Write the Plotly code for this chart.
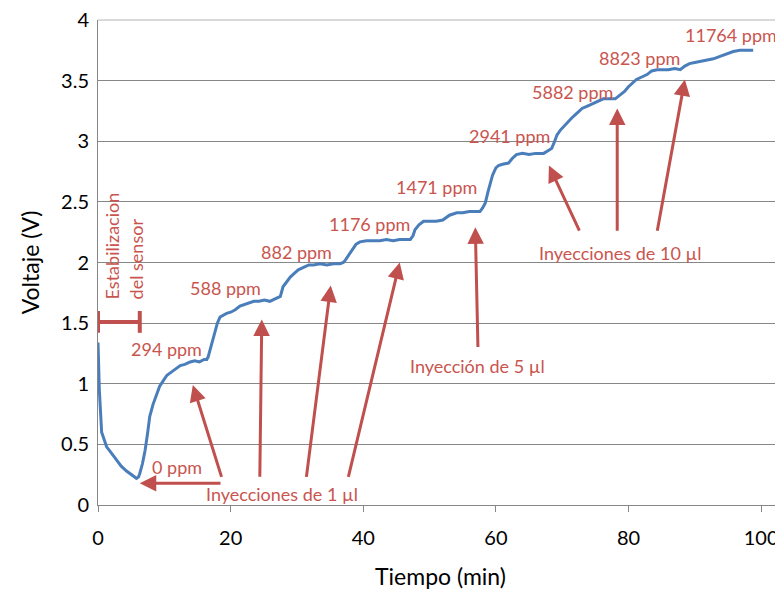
import plotly.graph_objects as go

# ---- data ----
time_min = [0, 0.2, 0.55, 1.3, 2.0, 2.8, 3.5, 4.3, 5.0, 5.5, 5.8, 6.1, 6.3, 6.7, 7.1, 7.5, 7.8, 8.3, 8.8, 9.3,
            9.9, 10.4, 10.9, 11.6, 12.4, 13.1, 13.9, 14.6, 15.3, 16.0, 16.4, 16.6, 17.0, 17.4, 17.6, 18.0, 18.4, 19.0, 19.4, 20.0,
            20.7, 21.4, 22.0, 22.9, 23.5, 24.3, 25.1, 25.9, 26.7, 27.2, 27.5, 27.9, 28.4, 29.0, 29.6, 30.2, 31.0, 31.8, 32.5, 33.5,
            34.5, 35.5, 36.5, 37.0, 37.3, 37.8, 38.3, 38.9, 39.5, 40.5, 41.5, 42.5, 43.5, 44.5, 45.5, 46.5, 47.1, 47.5, 47.8, 48.4,
            49.1, 50.0, 51.0, 52.0, 53.0, 54.1, 55.0, 56.0, 57.0, 57.6, 58.0, 58.4, 58.8, 59.1, 59.5, 60.0, 60.4, 61.0, 61.9, 62.5,
            63.1, 64.0, 65.0, 66.0, 67.2, 67.8, 68.4, 68.8, 69.2, 69.7, 70.2, 70.8, 71.4, 72.2, 73.0, 73.8, 74.7, 75.5, 76.2, 77.0,
            78.0, 78.7, 79.4, 80.0, 80.6, 81.2, 82.0, 82.8, 83.5, 84.3, 85.0, 86.0, 87.0, 87.8, 88.5, 89.2, 90.0, 90.8, 91.8, 92.8,
            93.8, 94.8, 95.8, 96.8, 97.8, 98.8]
voltage_v = [1.34, 0.95, 0.60, 0.48, 0.43, 0.37, 0.32, 0.28, 0.25, 0.23, 0.22, 0.23, 0.26, 0.34, 0.45, 0.60, 0.73, 0.83, 0.91, 0.98,
             1.03, 1.07, 1.09, 1.12, 1.15, 1.16, 1.18, 1.19, 1.18, 1.20, 1.20, 1.22, 1.30, 1.40, 1.44, 1.50, 1.55, 1.57, 1.58, 1.59,
             1.61, 1.64, 1.65, 1.67, 1.68, 1.68, 1.69, 1.68, 1.70, 1.71, 1.72, 1.80, 1.84, 1.88, 1.91, 1.94, 1.96, 1.98, 1.98, 1.99,
             1.98, 1.99, 1.99, 2.00, 2.02, 2.06, 2.10, 2.15, 2.17, 2.18, 2.18, 2.18, 2.19, 2.18, 2.19, 2.19, 2.19, 2.22, 2.27, 2.31,
             2.34, 2.34, 2.34, 2.35, 2.39, 2.41, 2.41, 2.42, 2.42, 2.42, 2.45, 2.49, 2.58, 2.65, 2.72, 2.78, 2.80, 2.81, 2.82, 2.86,
             2.89, 2.90, 2.89, 2.90, 2.90, 2.92, 2.94, 2.99, 3.05, 3.09, 3.12, 3.16, 3.19, 3.23, 3.27, 3.29, 3.31, 3.33, 3.35, 3.35,
             3.35, 3.38, 3.41, 3.45, 3.48, 3.51, 3.53, 3.55, 3.58, 3.59, 3.59, 3.59, 3.60, 3.59, 3.62, 3.64, 3.65, 3.66, 3.67, 3.68,
             3.70, 3.72, 3.74, 3.75, 3.75, 3.75]

x_ticks = [0, 20, 40, 60, 80, 100]
y_ticks = [0, 0.5, 1, 1.5, 2, 2.5, 3, 3.5, 4]
y_tick_labels = ["0", "0.5", "1", "1.5", "2", "2.5", "3", "3.5", "4"]

conc_labels = ["0 ppm", "294 ppm", "588 ppm", "882 ppm", "1176 ppm", "1471 ppm",
               "2941 ppm", "5882 ppm", "8823 ppm", "11764 ppm"]
conc_x = [11.9, 10.3, 19.3, 30.0, 41.0, 51.1, 62.0, 71.5, 81.7, 95.5]
conc_y = [0.31, 1.29, 1.79, 2.09, 2.32, 2.62, 3.04, 3.41, 3.69, 3.88]

inj_labels = ["Inyecciones de 1 µl", "Inyección de 5 µl", "Inyecciones de 10 µl"]
inj_x = [27.8, 57.3, 78.7]
inj_y = [0.09, 1.15, 2.08]

# arrows: tail (x0,y0) -> head (x1,y1)
arrow_x0 = [18.7, 18.7, 24.4, 31.4, 37.7, 57.3, 72.7, 78.3, 84.3]
arrow_y0 = [0.18, 0.22, 0.22, 0.22, 0.22, 1.29, 2.25, 2.25, 2.25]
arrow_x1 = [6.3, 14.3, 24.7, 35.1, 45.5, 56.9, 68.0, 78.3, 88.5]
arrow_y1 = [0.18, 0.99, 1.53, 1.81, 2.00, 2.29, 2.80, 3.27, 3.51]

stab_start, stab_end, stab_level = 0.0, 6.3, 1.51
stab_label = "Estabilizacion<br>del sensor"

RED = "#C0504D"
TXT_RED = "#C9554F"
BLUE = "#4A7EBB"
GRID = "#878787"
TOP_LINE = "#B4B4B4"
FONT = "Lato"

fig = go.Figure()
fig.add_trace(go.Scatter(x=time_min, y=voltage_v, mode="lines",
                         line=dict(color=BLUE, width=3), showlegend=False, hoverinfo="skip"))

# stabilization bar with caps
fig.add_trace(go.Scatter(
    x=[stab_start, stab_end, None, stab_start, stab_start, None, stab_end, stab_end],
    y=[stab_level, stab_level, None, stab_level - 0.09, stab_level + 0.09, None, stab_level - 0.09, stab_level + 0.09],
    mode="lines", line=dict(color=RED, width=4), showlegend=False, hoverinfo="skip", cliponaxis=False))

annotations = []
for t, x, y in zip(conc_labels, conc_x, conc_y):
    annotations.append(dict(x=x, y=y, xref="x", yref="y", text=t, showarrow=False,
                            font=dict(family=FONT, size=18, color=TXT_RED)))
for t, x, y in zip(inj_labels, inj_x, inj_y):
    annotations.append(dict(x=x, y=y, xref="x", yref="y", text=t, showarrow=False,
                            font=dict(family=FONT, size=18, color=TXT_RED)))
for x0, y0, x1, y1 in zip(arrow_x0, arrow_y0, arrow_x1, arrow_y1):
    annotations.append(dict(x=x1, y=y1, ax=x0, ay=y0, xref="x", yref="y", axref="x", ayref="y",
                            text="", showarrow=True, arrowhead=2, arrowsize=1.1, arrowwidth=3,
                            arrowcolor=RED, standoff=0, startstandoff=0))
annotations.append(dict(x=3.9, y=2.14, xref="x", yref="y", text=stab_label, showarrow=False,
                        textangle=-90, align="left",
                        font=dict(family=FONT, size=18, color=TXT_RED)))

# top border of the plotting area (gridline at the top of the value axis)
shapes = [dict(type="line", xref="paper", yref="paper", x0=0, x1=1, y0=1, y1=1,
               line=dict(color=TOP_LINE, width=1), layer="above")]

# the page body adds an 8px margin, so the figure is sized/placed to compensate
fig.update_layout(
    width=775, height=583,
    margin=dict(l=90, r=0, t=12, b=86),
    paper_bgcolor="white", plot_bgcolor="white",
    font=dict(family=FONT, color="black"),
    annotations=annotations,
    shapes=shapes,
    xaxis=dict(range=[0, 103.3], tickvals=x_ticks, showgrid=False, zeroline=False, automargin=False,
               showline=True, linecolor=GRID, linewidth=1, ticks="outside", ticklen=6,
               tickcolor=GRID, tickfont=dict(family=FONT, size=20, color="black"),
               ticklabelstandoff=9,
               title=dict(text="Tiempo (min)", font=dict(family=FONT, size=23, color="black"), standoff=20)),
    yaxis=dict(range=[0, 4], tickvals=y_ticks, ticktext=y_tick_labels, showgrid=True, gridcolor=GRID,
               gridwidth=1, zeroline=False, automargin=False, ticklabeloverflow="allow",
               showline=True, linecolor=GRID, linewidth=1, ticks="",
               tickfont=dict(family=FONT, size=20, color="black"), ticklabelstandoff=4,
               title=dict(text="Voltaje (V)", font=dict(family=FONT, size=23, color="black"), standoff=15)),
)

fig.write_html("out.html")
